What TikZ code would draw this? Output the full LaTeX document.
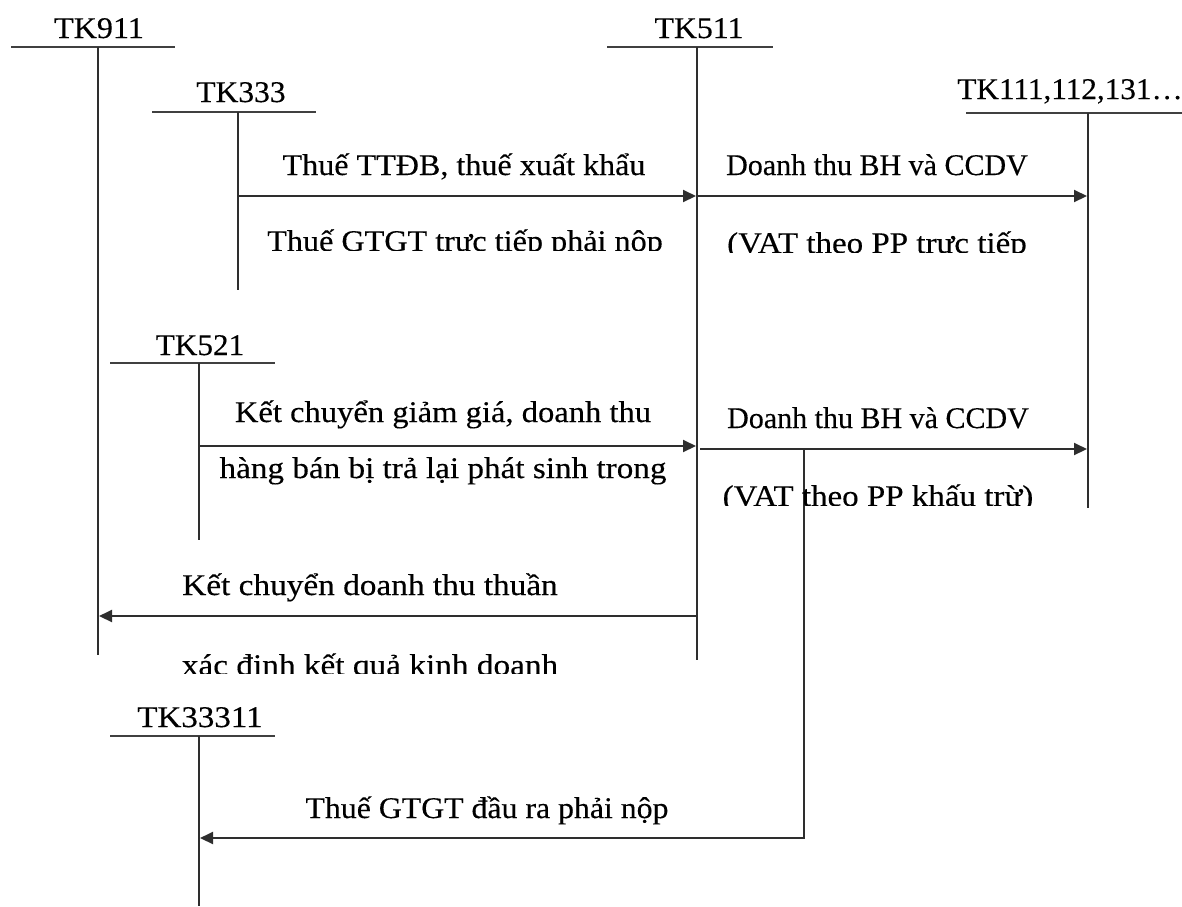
\documentclass[tikz,border=0pt]{standalone}
\usepackage{fontspec}
\setmainfont{Liberation Serif}[FakeBold=0.3]
\usetikzlibrary{arrows.meta}
% horizontal stretch of a label, height kept
\newcommand{\hstretch}[2]{\scalebox{#1}[1]{#2}}
\begin{document}
\begin{tikzpicture}[x=0.5pt,y=-0.5pt,
  ink/.style={draw=black!82, line width=1pt},
  bar/.style={draw=black!75, line width=1.25pt},
  flow/.style={ink, -{Triangle[length=6.5pt,width=6pt]}},
  lbl/.style={anchor=base, inner sep=0pt, font=\fontsize{15}{18}\selectfont, text=black},
  lbll/.style={lbl, anchor=base west},
]
\useasboundingbox (0,0) rectangle (1182,906);

% ---- account titles ----
\node[lbl]  (t911)   at (99,38)   {\hstretch{1.07}{TK911}};
\node[lbl]  (t511)   at (699,38)  {\hstretch{1.06}{TK511}};
\node[lbl]  (t333)   at (241,102) {\hstretch{1.05}{TK333}};
\node[lbll] (t111)   at (957,99)  {\hstretch{1.04}{TK111,112,131…}};
\node[lbl]  (t521)   at (200,355) {\hstretch{1.04}{TK521}};
\node[lbl]  (t33311) at (200,727) {\hstretch{1.1}{TK33311}};

% ---- T-account bars and stems ----
\coordinate (b911)  at (98,47);    \coordinate (e911)  at (98,655);
\coordinate (b511)  at (697,47);   \coordinate (e511)  at (697,660);
\coordinate (b333)  at (238,112);  \coordinate (e333)  at (238,290);
\coordinate (b111)  at (1088,113); \coordinate (e111)  at (1088,508);
\coordinate (b521)  at (199,363);  \coordinate (e521)  at (199,540);
\coordinate (b3331) at (199,736);  \coordinate (e3331) at (199,906);

\draw[bar] (11,47) -- (175,47);
\draw[bar] (607,47) -- (773,47);
\draw[bar] (152,112) -- (316,112);
\draw[bar] (966,113) -- (1182,113);
\draw[bar] (110,363) -- (275,363);
\draw[bar] (110,736) -- (275,736);

\draw[ink] (b911) -- (e911);
\draw[ink] (b511) -- (e511);
\draw[ink] (b333) -- (e333);
\draw[ink] (b111) -- (e111);
\draw[ink] (b521) -- (e521);
\draw[ink] (b3331) -- (e3331);

% ---- entries ----
\coordinate (s1) at (238,196);  \coordinate (f1) at (696,196);
\coordinate (s2) at (697,196);  \coordinate (f2) at (1087,196);
\coordinate (s3) at (199,446);  \coordinate (f3) at (696,446);
\coordinate (s4) at (700,449);  \coordinate (f4) at (1087,449);
\coordinate (s5) at (697,616);  \coordinate (f5) at (99,616);
\coordinate (s6) at (804,449);  \coordinate (k6) at (804,838);  \coordinate (f6) at (200,838);

\draw[flow] (s1) -- (f1);
\draw[flow] (s2) -- (f2);
\draw[flow] (s3) -- (f3);
\draw[flow] (s4) -- (f4);
\draw[flow] (s5) -- (f5);
\draw[flow] (s6) -- (k6) -- (f6);

% ---- entry labels ----
\node[lbl] (a1) at (464,175) {\hstretch{1.07}{Thuế TTĐB, thuế xuất khẩu}};
\begin{scope}
  \clip (240,200) rectangle (690,250);
  \node[lbl] (a1b) at (465,251) {\hstretch{1.073}{Thuế GTGT trực tiếp phải nộp}};
\end{scope}

\node[lbl] (a2) at (877,175) {Doanh thu BH và CCDV};
\begin{scope}
  \clip (705,200) rectangle (1080,252);
  \node[lbl] (a2b) at (877,253) {\hstretch{1.1}{(VAT theo PP trực tiếp}};
\end{scope}

\node[lbl] (a3)  at (443,422) {\hstretch{1.086}{Kết chuyển giảm giá, doanh thu}};
\node[lbl] (a3b) at (443,478) {\hstretch{1.106}{hàng bán bị trả lại phát sinh trong}};

\node[lbl] (a4) at (878,428) {Doanh thu BH và CCDV};
\begin{scope}
  \clip (705,455) rectangle (1080,505);
  \node[lbl] (a4b) at (878,506) {\hstretch{1.1}{(VAT theo PP khấu trừ)}};
\end{scope}

\node[lbl] (a5) at (370,595) {\hstretch{1.11}{Kết chuyển doanh thu thuần}};
\begin{scope}
  \clip (150,625) rectangle (650,673);
  \node[lbl] (a5b) at (370,675) {\hstretch{1.11}{xác định kết quả kinh doanh}};
\end{scope}

\node[lbl] (a6) at (487,818) {\hstretch{1.06}{Thuế GTGT đầu ra phải nộp}};
\end{tikzpicture}
\end{document}
